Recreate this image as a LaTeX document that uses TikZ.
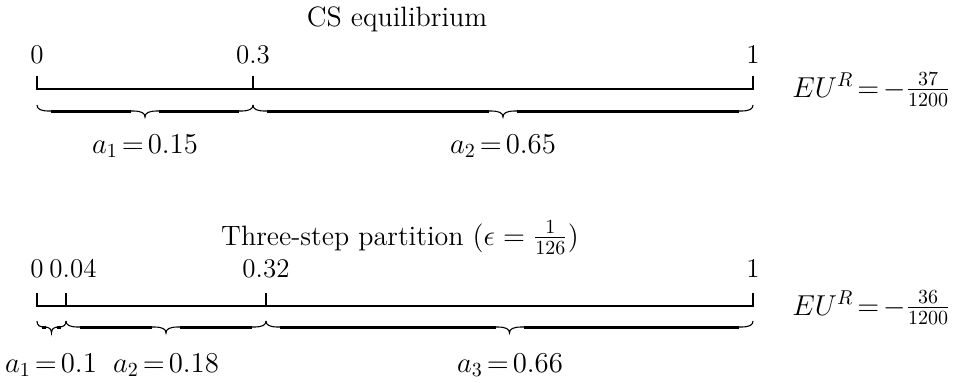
\documentclass[tikz,border=0pt]{standalone}
\newcommand\tightm{\thickmuskip=2.5mu\relax\medmuskip=2mu\relax}
\newcommand\bracepart[3]{%
  \pgfmathsetmacro\bxa{#1}%
  \pgfmathsetmacro\bxb{#2}%
  \pgfmathsetmacro\bxm{(#1+#2)/2}%
  \pgfmathsetmacro\brx{min(12,(#2-#1)/4)}%
  \pgfmathsetmacro\bya{#3}%
  \pgfmathsetmacro\byb{#3+6}%
  \pgfmathsetmacro\byc{#3+12}%
  \draw[bracethin] (\bxa,\bya) .. controls (\bxa,\bya+4) and (\bxa+\brx*0.3,\byb) .. (\bxa+\brx,\byb)
     -- (\bxm-\brx,\byb) .. controls (\bxm-\brx*0.3,\byb) and (\bxm,\byb+2) .. (\bxm,\byc)
     .. controls (\bxm,\byb+2) and (\bxm+\brx*0.3,\byb) .. (\bxm+\brx,\byb)
     -- (\bxb-\brx,\byb) .. controls (\bxb-\brx*0.3,\byb) and (\bxb,\byb-2) .. (\bxb,\bya);
  \draw[bracebar] (\bxa+\brx+2,\byb) -- (\bxm-\brx-2,\byb);
  \draw[bracebar] (\bxm+\brx+2,\byb) -- (\bxb-\brx-2,\byb);
}
\begin{document}
\begin{tikzpicture}[x=0.5pt,y=-0.5pt,
  title/.style={font=\fontsize{14}{16}\selectfont, inner sep=0pt, anchor=base},
  tick/.style={font=\fontsize{13.5}{15}\selectfont, inner sep=0pt, anchor=base},
  lab/.style={font=\fontsize{14}{16}\selectfont, inner sep=0pt, anchor=base},
  eu/.style={font=\fontsize{14}{16}\selectfont, inner sep=0pt, anchor=base west},
  axisline/.style={line width=0.6pt},
  bracethin/.style={line width=0.55pt},
  bracebar/.style={line width=1.5pt}]
\useasboundingbox (0,0) rectangle (955,382);

% ---------- top: CS equilibrium ----------
\node[title] (t1) at (397,26) {CS equilibrium};
\node[tick] (l0) at (37,63) {0};
\node[tick] (l03) at (253,63) {0.3};
\node[tick] (l1) at (753,63) {1};
\coordinate (p0) at (37,89);
\coordinate (p03) at (253,89);
\coordinate (p1) at (753,89);
\draw[axisline] ([yshift=6.5pt]p0) -- (p0) -- (p1) -- ([yshift=6.5pt]p1);
\draw[axisline] ([yshift=6.5pt]p03) -- (p03);
\bracepart{37}{253}{105}
\bracepart{253}{753}{105}
\node[lab] (a1) at (145,153) {$\tightm a_1=0.15$};
\node[lab] (a2) at (503,153) {$\tightm a_2=0.65$};
\node[eu] (eu1) at (792,97) {$\tightm EU^R=-\frac{37}{1200}$};

% ---------- bottom: three-step partition ----------
\node[title] (t2) at (400,245) {Three-step partition $(\epsilon=\frac{1}{126})$};
\node[tick] (m0) at (37,277) {0};
\node[tick] (m004) at (73,277) {0.04};
\node[tick] (m032) at (266,277) {0.32};
\node[tick] (m1) at (753,277) {1};
\coordinate (q0) at (37,306);
\coordinate (q004) at (66,306);
\coordinate (q032) at (266,306);
\coordinate (q1) at (753,306);
\draw[axisline] ([yshift=6.5pt]q0) -- (q0) -- (q1) -- ([yshift=6.5pt]q1);
\draw[axisline] ([yshift=6.5pt]q004) -- (q004);
\draw[axisline] ([yshift=6.5pt]q032) -- (q032);
\bracepart{37}{66}{321}
\bracepart{66}{266}{321}
\bracepart{266}{753}{321}
\node[lab] (b1) at (51,372) {$\tightm a_1=0.1$};
\node[lab] (b2) at (166,372) {$\tightm a_2=0.18$};
\node[lab] (b3) at (510,372) {$\tightm a_3=0.66$};
\node[eu] (eu2) at (792,315) {$\tightm EU^R=-\frac{36}{1200}$};
\end{tikzpicture}
\end{document}
